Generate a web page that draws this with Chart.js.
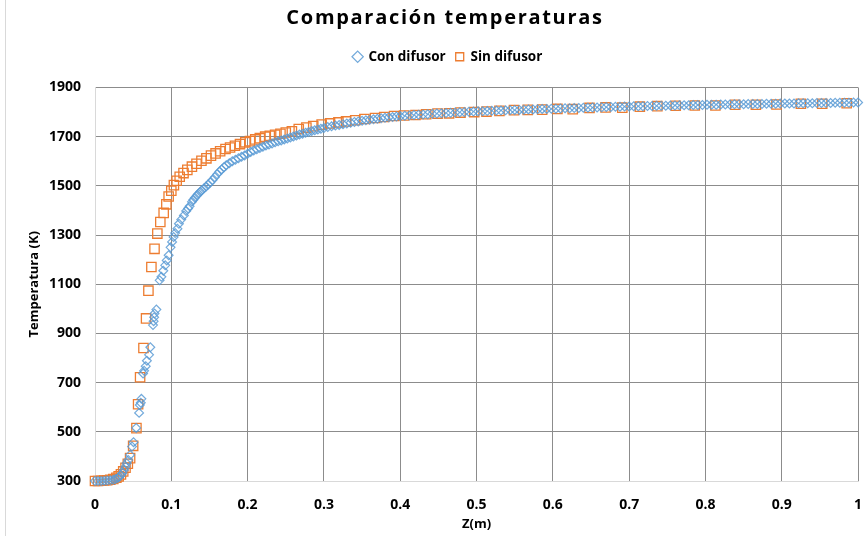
<!DOCTYPE html>
<html>
<head>
<meta charset="utf-8">
<script src="https://cdn.jsdelivr.net/npm/chart.js@4.4.1/dist/chart.umd.min.js"></script>
<style>
  html, body { margin: 0; padding: 0; background: #fff; overflow: hidden; }
  canvas { display: block; }
</style>
</head>
<body>
<canvas id="tempChart" width="866" height="536"></canvas>
<script>
const titleText = 'Comparación temperaturas';
const seriesNames = ['Con difusor', 'Sin difusor'];
const xTickLabels = ['0', '0.1', '0.2', '0.3', '0.4', '0.5', '0.6', '0.7', '0.8', '0.9', '1'];

// Con difusor: Z (m) and T (K)
const conZ = [
  0.000, 0.004, 0.008, 0.012, 0.016, 0.020, 0.024, 0.027, 0.030, 0.032,
  0.034, 0.036, 0.038, 0.040, 0.0415, 0.0435, 0.046, 0.0485, 0.0505, 0.054,
  0.0578, 0.0587, 0.0600, 0.0608, 0.063, 0.0643, 0.0665, 0.068, 0.0708, 0.0725,
  0.076, 0.0768, 0.0775, 0.078, 0.0804, 0.0847, 0.087, 0.0895, 0.092, 0.094,
  0.0965, 0.099, 0.101, 0.103, 0.105, 0.108, 0.110, 0.113, 0.1165, 0.1195,
  0.122, 0.124, 0.127, 0.129, 0.131, 0.1335, 0.1356, 0.138, 0.140, 0.143,
  0.1456, 0.148, 0.151, 0.154, 0.157, 0.160, 0.163, 0.166, 0.169, 0.172,
  0.176, 0.180, 0.184, 0.188, 0.192, 0.196, 0.200, 0.204, 0.208, 0.212,
  0.216, 0.220, 0.224, 0.228, 0.232, 0.236, 0.240, 0.244, 0.248, 0.252,
  0.256, 0.260, 0.264, 0.268, 0.272, 0.276, 0.280, 0.284, 0.288, 0.292,
  0.296, 0.300, 0.305, 0.310, 0.315, 0.320, 0.325, 0.330, 0.335, 0.340,
  0.345, 0.350, 0.355, 0.360, 0.365, 0.370, 0.375, 0.380, 0.385, 0.390,
  0.395, 0.400, 0.406, 0.412, 0.418, 0.424, 0.430, 0.436, 0.442, 0.448,
  0.454, 0.460, 0.466, 0.472, 0.478, 0.484, 0.490, 0.496, 0.502, 0.508,
  0.514, 0.520, 0.526, 0.532, 0.538, 0.544, 0.550, 0.556, 0.562, 0.568,
  0.574, 0.580, 0.586, 0.592, 0.598, 0.604, 0.610, 0.616, 0.622, 0.628,
  0.634, 0.640, 0.646, 0.652, 0.658, 0.664, 0.670, 0.676, 0.682, 0.688,
  0.694, 0.700, 0.706, 0.712, 0.718, 0.724, 0.730, 0.736, 0.742, 0.748,
  0.754, 0.760, 0.766, 0.772, 0.778, 0.784, 0.790, 0.796, 0.802, 0.808,
  0.814, 0.820, 0.826, 0.832, 0.838, 0.844, 0.850, 0.856, 0.862, 0.868,
  0.874, 0.880, 0.886, 0.892, 0.898, 0.904, 0.910, 0.916, 0.922, 0.928,
  0.934, 0.940, 0.946, 0.952, 0.958, 0.964, 0.970, 0.976, 0.982, 0.988,
  0.994, 1.000
];
const conT = [
  300, 300, 300, 301, 302, 303, 305, 308, 312, 317,
  324, 333, 345, 358, 372, 385, 406, 440, 458, 516,
  577, 609, 618, 634, 737, 748, 767, 789, 813, 844,
  934, 950, 966, 981, 997, 1116, 1130, 1155, 1177, 1197,
  1218, 1250, 1272, 1292, 1308, 1326, 1346, 1363, 1380, 1398,
  1408, 1417, 1435, 1444, 1452, 1461, 1468, 1476, 1482, 1490,
  1497, 1505, 1514, 1524, 1535, 1547, 1558, 1567, 1576, 1584,
  1592, 1600, 1606, 1612, 1618, 1624, 1631, 1638, 1644, 1649,
  1654, 1659, 1664, 1668, 1672, 1677, 1681, 1685, 1689, 1693,
  1697, 1701, 1705, 1709, 1712, 1716, 1719, 1723, 1726, 1729,
  1732, 1735, 1739, 1742, 1745, 1748, 1751, 1754, 1757, 1760,
  1762, 1765, 1767, 1769, 1771, 1773, 1775, 1777, 1779, 1780,
  1782, 1783, 1785, 1786, 1788, 1789, 1790, 1791, 1793, 1794,
  1795, 1796, 1797, 1798, 1799, 1800, 1801, 1802, 1803, 1803,
  1804, 1805, 1806, 1806, 1807, 1808, 1809, 1809, 1810, 1811,
  1811, 1812, 1813, 1813, 1814, 1814, 1815, 1816, 1816, 1817,
  1817, 1818, 1818, 1819, 1819, 1820, 1821, 1821, 1822, 1822,
  1823, 1823, 1824, 1824, 1824, 1825, 1825, 1826, 1826, 1826,
  1827, 1827, 1828, 1828, 1828, 1829, 1829, 1829, 1830, 1830,
  1830, 1831, 1831, 1831, 1832, 1832, 1832, 1833, 1833, 1833,
  1833, 1834, 1834, 1834, 1835, 1835, 1835, 1835, 1836, 1836,
  1836, 1836, 1837, 1837, 1837, 1837, 1838, 1838, 1838, 1838,
  1839, 1839
];

// Sin difusor: Z (m) and T (K)
const sinZ = [
  0.000, 0.004, 0.008, 0.012, 0.016, 0.020, 0.024, 0.028, 0.031, 0.034,
  0.037, 0.040, 0.043, 0.046, 0.050, 0.0543, 0.0565, 0.0591, 0.0635, 0.0669,
  0.070, 0.0739, 0.078, 0.0817, 0.0856, 0.090, 0.0935, 0.0965, 0.100, 0.1034,
  0.107, 0.111, 0.116, 0.121, 0.127, 0.133, 0.1395, 0.146, 0.152, 0.158,
  0.164, 0.171, 0.177, 0.1834, 0.190, 0.197, 0.203, 0.210, 0.216, 0.223,
  0.229, 0.236, 0.243, 0.250, 0.258, 0.267, 0.277, 0.286, 0.297, 0.308,
  0.319, 0.329, 0.341, 0.353, 0.367, 0.379, 0.392, 0.405, 0.420, 0.434,
  0.449, 0.464, 0.479, 0.497, 0.513, 0.530, 0.549, 0.567, 0.586, 0.606,
  0.626, 0.648, 0.669, 0.691, 0.714, 0.737, 0.761, 0.786, 0.813, 0.839,
  0.866, 0.893, 0.925, 0.953, 0.985
];
const sinT = [
  300, 300, 301, 302, 303, 305, 308, 313, 319, 327,
  339, 354, 370, 393, 443, 515, 612, 722, 841, 961,
  1074, 1170, 1244, 1306, 1353, 1390, 1425, 1457, 1480, 1503,
  1521, 1537, 1552, 1565, 1578, 1590, 1602, 1612, 1623, 1632,
  1641, 1650, 1656, 1663, 1670, 1677, 1682, 1689, 1694, 1700,
  1704, 1708, 1712, 1717, 1722, 1731, 1737, 1743, 1749, 1754,
  1758, 1762, 1767, 1772, 1776, 1780, 1784, 1786, 1788, 1791,
  1794, 1795, 1798, 1800, 1802, 1805, 1808, 1809, 1810, 1813,
  1812, 1817, 1819, 1818, 1822, 1824, 1826, 1827, 1827, 1830,
  1830, 1831, 1834, 1834, 1836
];

const FONT = '"Open Sans", "DejaVu Sans", sans-serif';
const toPoints = (xs, ys) => xs.map((x, i) => ({ x, y: ys[i] }));

// white background + thin frame line on the left
const chartFrame = {
  id: 'chartFrame',
  beforeDraw(chart) {
    const { ctx, width, height } = chart;
    ctx.save();
    ctx.fillStyle = '#fff';
    ctx.fillRect(0, 0, width, height);
    ctx.strokeStyle = '#d9d9d9';
    ctx.lineWidth = 1;
    ctx.beginPath();
    ctx.moveTo(5.5, 0);
    ctx.lineTo(5.5, height);
    ctx.stroke();
    ctx.restore();
  }
};

// extra room between the legend and the plot
const legendGap = {
  id: 'legendGap',
  beforeInit(chart) {
    const fit = chart.legend.fit;
    chart.legend.fit = function () {
      fit.call(this);
      this.height += 14;
    };
  }
};

// spaced-out heading above the legend
const spacedTitle = {
  id: 'spacedTitle',
  afterDraw(chart) {
    const ctx = chart.ctx;
    ctx.save();
    ctx.font = `bold 20px ${FONT}`;
    ctx.letterSpacing = '1.7px';
    ctx.fillStyle = '#000';
    ctx.textAlign = 'center';
    ctx.textBaseline = 'middle';
    ctx.fillText(titleText, 445, 18);
    ctx.restore();
  }
};

const gridColor = '#8c8c8c';
const axisColor = '#d9d9d9';

new Chart(document.getElementById('tempChart'), {
  type: 'scatter',
  data: {
    datasets: [{
      label: seriesNames[0],
      data: toPoints(conZ, conT),
      pointStyle: 'rectRot',
      pointRadius: 4.4,
      pointBorderWidth: 1.2,
      borderColor: 'rgba(91,155,213,0.85)',
      backgroundColor: 'rgba(255,255,255,0)',
      clip: false
    }, {
      label: seriesNames[1],
      data: toPoints(sinZ, sinT),
      pointStyle: 'rect',
      pointRadius: 6.6,
      pointBorderWidth: 1.3,
      borderColor: '#ed7d31',
      backgroundColor: 'rgba(255,255,255,0)',
      clip: false
    }]
  },
  options: {
    responsive: false,
    animation: false,
    layout: { padding: { top: 40, right: 4, bottom: 0, left: 34 } },
    plugins: {
      legend: {
        position: 'top',
        labels: {
          usePointStyle: true,
          boxHeight: 8,
          boxWidth: 8,
          padding: 10,
          color: '#000',
          font: { family: FONT, size: 13.5, weight: 'bold' }
        }
      },
      tooltip: { enabled: false }
    },
    scales: {
      x: {
        type: 'linear',
        min: 0,
        max: 1,
        ticks: {
          stepSize: 0.1,
          padding: 16,
          maxRotation: 0,
          color: '#000',
          font: { family: FONT, size: 14, weight: 'bold' },
          callback: (v, i) => xTickLabels[i]
        },
        grid: {
          drawTicks: false,
          color: c => (c.tick && c.tick.value === 0 ? axisColor : gridColor)
        },
        border: { color: axisColor },
        title: {
          display: true,
          text: 'Z(m)',
          color: '#000',
          font: { family: FONT, size: 13, weight: 'bold' },
          padding: { top: 2, bottom: 4 }
        },
        afterFit: s => { s.height = 55; s.paddingLeft = 0; s.paddingRight = 0; }
      },
      y: {
        min: 300,
        max: 1900,
        ticks: {
          stepSize: 200,
          padding: 14,
          color: '#000',
          font: { family: FONT, size: 14, weight: 'bold' },
          callback: v => String(v)
        },
        grid: {
          drawTicks: false,
          color: c => (c.tick && c.tick.value === 300 ? axisColor : gridColor)
        },
        border: { color: axisColor },
        title: {
          display: true,
          text: 'Temperatura (K)',
          color: '#000',
          font: { family: FONT, size: 13, weight: 'bold' },
          padding: { top: -8, bottom: 0 }
        },
        afterFit: s => { s.width = 61; s.paddingTop = 0; s.paddingBottom = 0; }
      }
    }
  },
  plugins: [chartFrame, legendGap, spacedTitle]
});
</script>
</body>
</html>
